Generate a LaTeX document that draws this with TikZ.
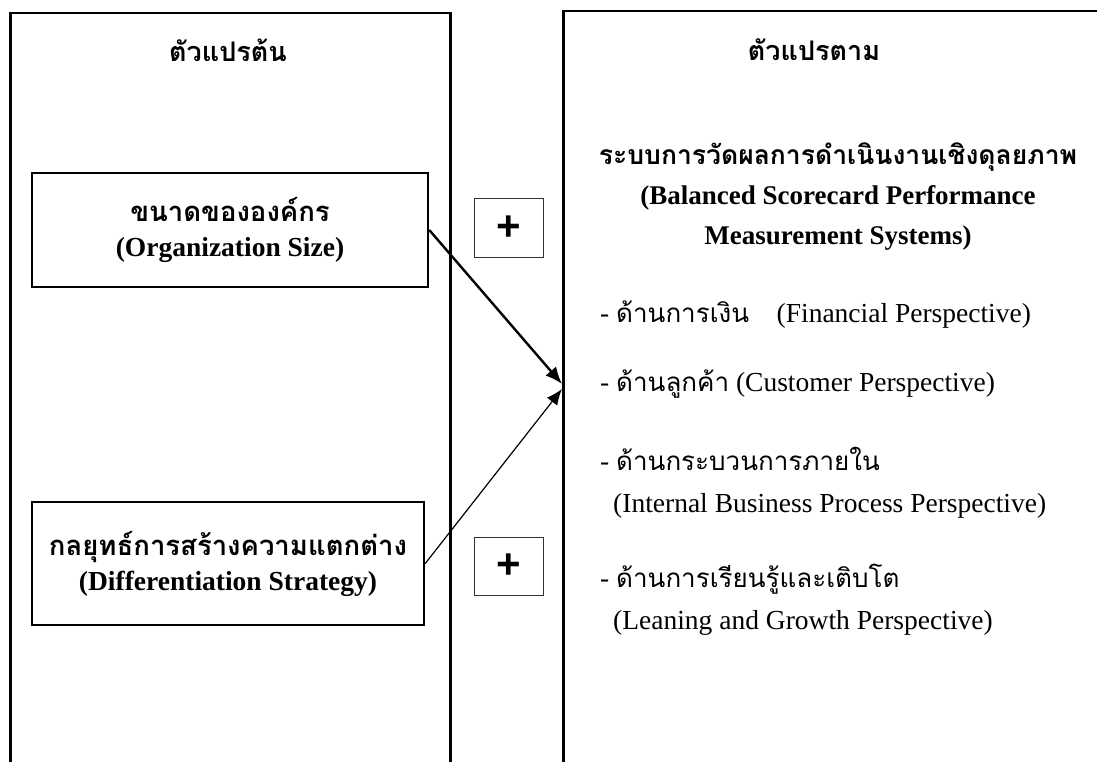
\documentclass[tikz,border=0pt]{standalone}
\usepackage{fontspec}
\setmainfont{Liberation Serif}
\newfontfamily\thai[Script=Thai]{Loma}
\newfontfamily\plusfont{Liberation Sans}
\usetikzlibrary{arrows.meta}
\newcommand{\thi}[1]{{\thai\fontsize{26}{32}\selectfont #1}}
\tikzset{
  bigbox/.style={draw, line width=2.5pt, anchor=north west, minimum width=#1, minimum height=820pt, inner sep=0pt},
  varbox/.style={draw, line width=2.5pt, align=center, inner sep=0pt, font=\fontsize{27.5}{35}\selectfont\bfseries},
  plusbox/.style={draw, line width=1pt, draw=black!80, minimum width=69pt, minimum height=58pt, inner sep=0pt, font=\plusfont\fontsize{42}{42}\selectfont\bfseries},
  title/.style={font=\thai\fontsize{27}{32}\selectfont\bfseries},
  heading/.style={align=center, font=\fontsize{27}{40}\selectfont\bfseries},
  item/.style={anchor=base west, inner sep=0pt, font=\fontsize{27.5}{32}\selectfont},
  strongarrow/.style={line width=2.4pt, -{Latex[length=17pt,width=14pt]}},
  thinarrow/.style={line width=1.2pt, -{Latex[length=16pt,width=13pt]}}
}
\begin{document}
\begin{tikzpicture}[x=1pt,y=-1pt]
\useasboundingbox (0,0) rectangle (1097,762);
\clip (0,0) rectangle (1097,762);
\fill[white] (0,0) rectangle (1097,762);
% big frames
\node[bigbox=440pt] (indep) at (9,12) {};
\node[bigbox=560pt] (dep) at (562,10) {};
\node[title] (t1) at (228,50) {ตัวแปรต้น};
\node[title] (t2) at (814,50) {ตัวแปรตาม};
% independent variable boxes
\node[varbox, minimum width=396pt, minimum height=114pt] (org) at (230,230)
  {{\thai ขนาดขององค์กร}\\(Organization Size)};
\node[varbox, minimum width=392pt, minimum height=123pt] (diff) at (228,563.5)
  {{\thai กลยุทธ์การสร้างความแตกต่าง}\\(Differentiation Strategy)};
% plus boxes
\node[plusbox] (p1) at (508.5,228) {+};
\node[plusbox] (p2) at (508.5,566) {+};
% dependent variable texts
\node[heading] (bsc) at (838,197)
  {{\thai\fontsize{26.5}{40}\selectfont ระบบการวัดผลการดำเนินงานเชิงดุลยภาพ}\\(Balanced Scorecard Performance\\Measurement Systems)};
\node[item] (f1) at (600,322) {- \thi{ด้านการเงิน}\quad (Financial Perspective)};
\node[item] (f2) at (600,391) {- \thi{ด้านลูกค้า} (Customer Perspective)};
\node[item] (f3) at (600,470) {- \thi{ด้านกระบวนการภายใน}};
\node[item] (f3b) at (613,512) {(Internal Business Process Perspective)};
\node[item] (f4) at (600,587) {- \thi{ด้านการเรียนรู้และเติบโต}};
\node[item] (f4b) at (613,629) {(Leaning and Growth Perspective)};
% arrows
\coordinate (in1) at (562,384);
\coordinate (in2) at (562,389);
\draw[strongarrow] (org.east) -- (in1);
\draw[thinarrow] (diff.east) -- (in2);
\end{tikzpicture}
\end{document}
